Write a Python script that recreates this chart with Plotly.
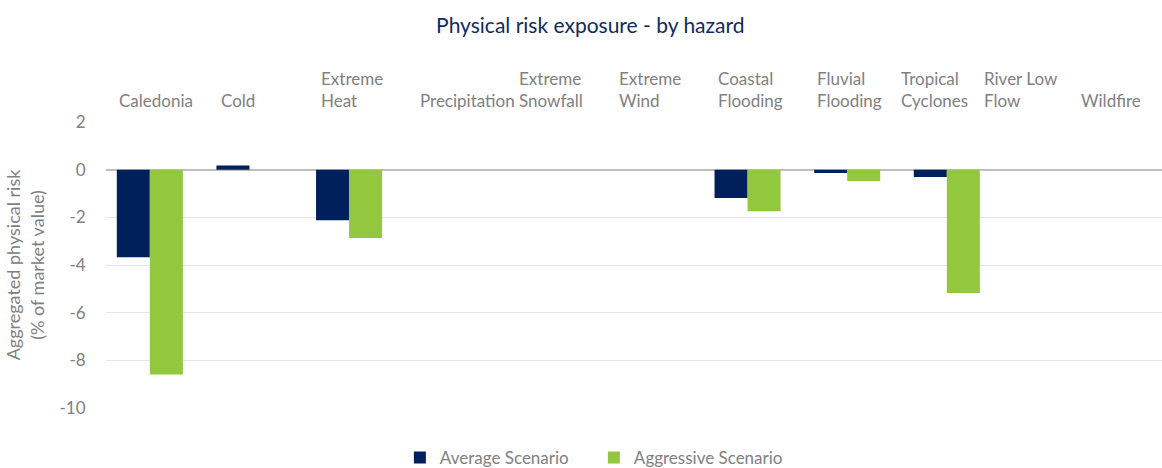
import plotly.graph_objects as go

categories = ["Caledonia", "Cold", "Extreme Heat", "Precipitation", "Extreme Snowfall",
              "Extreme Wind", "Coastal Flooding", "Fluvial Flooding", "Tropical Cyclones",
              "River Low Flow", "Wildfire"]
label_text = ["Caledonia", "Cold", "Extreme<br>Heat", "Precipitation", "Extreme<br>Snowfall",
              "Extreme<br>Wind", "Coastal<br>Flooding", "Fluvial<br>Flooding", "Tropical<br>Cyclones",
              "River Low<br>Flow", "Wildfire"]
average = [-3.67, 0.18, -2.12, 0, 0, 0, -1.19, -0.14, -0.31, 0, 0]
aggressive = [-8.59, 0, -2.87, 0, 0, 0, -1.74, -0.48, -5.18, 0, 0]
y_ticks = [2, 0, -2, -4, -6, -8, -10]

# layout-only label offsets (pixels) relative to category centre
label_shift = [-33, -30, -30, -31, -31, -31, -32, -32, -48, -64, -67]

NAVY = "#00205B"
GREEN = "#93C73D"
GREY = "#808080"
FONT = "Lato"

fig = go.Figure()
fig.add_trace(go.Bar(x=categories, y=average, name="Average Scenario", marker_color=NAVY,
                     marker_line_width=0))
fig.add_trace(go.Bar(x=categories, y=aggressive, name="Aggressive Scenario", marker_color=GREEN,
                     marker_line_width=0))

for cat, txt, sh in zip(categories, label_text, label_shift):
    fig.add_annotation(x=cat, y=1, xref="x", yref="paper", text=txt, showarrow=False,
                       xanchor="left", yanchor="bottom", align="left", xshift=sh, yshift=9,
                       font=dict(family=FONT, size=17, color=GREY))

fig.update_layout(
    width=1162, height=468,
    margin=dict(l=106, r=0, t=122, b=60, autoexpand=False),
    paper_bgcolor="white", plot_bgcolor="white",
    barmode="group", bargap=0.337, bargroupgap=0,
    font=dict(family=FONT, size=17, color=GREY),
    title=dict(text="Physical risk exposure - by hazard", x=0.508, xanchor="center",
               y=0.945, yanchor="middle", font=dict(family=FONT, size=21, color="#0E2B5E")),
    legend=dict(orientation="h", x=0.462, xanchor="center", y=-0.175, yanchor="middle",
                font=dict(family=FONT, size=17, color=GREY), itemwidth=30,
                entrywidth=149, entrywidthmode="pixels", traceorder="normal"),
    xaxis=dict(range=[-0.44, 10.16], showticklabels=False, showgrid=False, zeroline=False,
               showline=False, fixedrange=True),
    yaxis=dict(range=[-10, 2], tickvals=y_ticks, ticktext=[str(v) for v in y_ticks],
               showgrid=True, gridcolor="#e6e6e6", gridwidth=1,
               zeroline=True, zerolinecolor="#bfbfbf", zerolinewidth=2,
               ticks="outside", ticklen=16, tickcolor="rgba(0,0,0,0)",
               tickfont=dict(family=FONT, size=17, color=GREY),
               title=dict(text="Aggregated physical risk<br>(% of market value)", standoff=10,
                          font=dict(family=FONT, size=18, color=GREY))),
)

fig.write_html("out.html")
